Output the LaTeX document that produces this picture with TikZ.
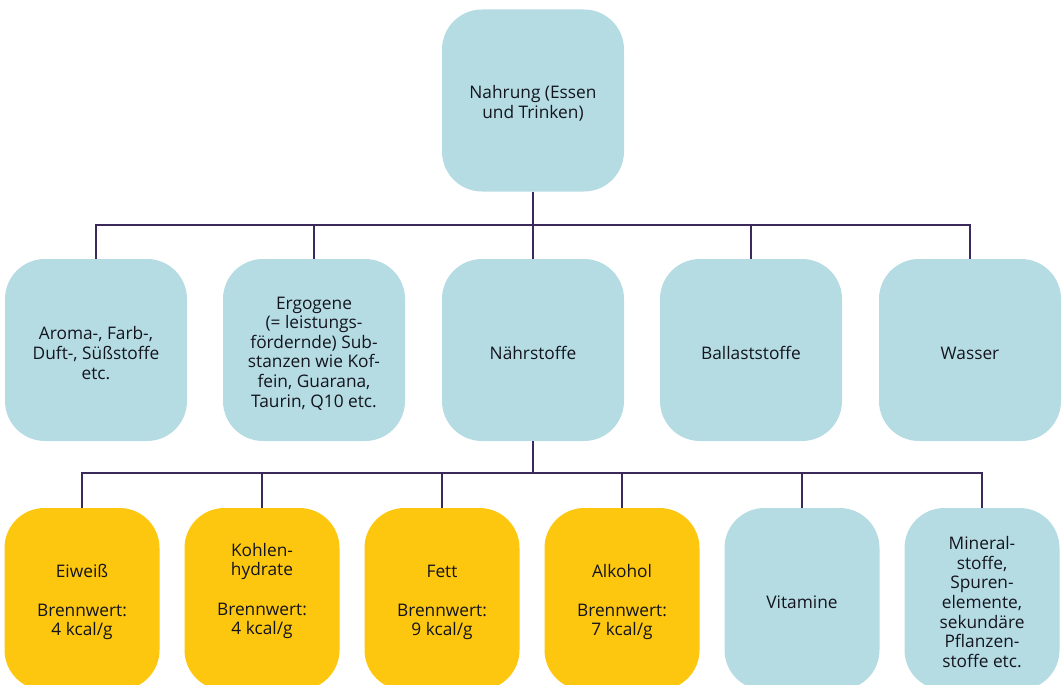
\documentclass[tikz,border=0pt]{standalone}
\usepackage{fontspec}
\setmainfont{Open Sans}
\definecolor{boxblue}{RGB}{181,220,227}
\definecolor{boxyellow}{RGB}{252,199,14}
\definecolor{linecol}{RGB}{58,42,92}
\definecolor{txtcol}{RGB}{20,20,30}
\newcommand{\topstrut}{\rule{0pt}{19.2pt}}
\begin{document}
\begin{tikzpicture}[x=1pt,y=-1pt,
  box/.style={rounded corners=40pt, minimum height=182pt, align=center,
    inner sep=0pt, text=txtcol, font=\fontsize{17.3}{19.6}\selectfont},
  bigbox/.style={box, fill=boxblue, minimum width=182pt},
  bluebox/.style={box, fill=boxblue, minimum width=155pt},
  yellowbox/.style={box, fill=boxyellow, minimum width=155pt},
  conn/.style={draw=linecol, line width=1.4pt}]
\useasboundingbox (0,0) rectangle (1063,685);
\clip (0,0) rectangle (1063,685);
% top
\node[bigbox] (top) at (533,100.5) {\topstrut Nahrung (Essen\\und Trinken)};
% row 2
\node[bigbox] (aroma) at (96,350) {\topstrut Aroma-, Farb-,\\Duft-, Süßstoffe\\etc.};
\node[bigbox] (ergo) at (314,350) {\topstrut Ergogene\\(= leistungs-\\fördernde) Sub-\\stanzen wie Kof-\\fein, Guarana,\\Taurin, Q10 etc.};
\node[bigbox] (naehr) at (533,350) {\topstrut Nährstoffe};
\node[bigbox] (ballast) at (751,350) {\topstrut Ballaststoffe};
\node[bigbox] (wasser) at (970,350) {\topstrut Wasser};
% row 3
\node[yellowbox] (eiweiss) at (82,599) {\topstrut Eiweiß\\[19.6pt]Brennwert:\\4 kcal/g};
\node[yellowbox] (kohlen) at (262,599) {\topstrut Kohlen-\\hydrate\\[19.6pt]Brennwert:\\4 kcal/g\\[6.6pt]};
\node[yellowbox] (fett) at (442,599) {\topstrut Fett\\[19.6pt]Brennwert:\\9 kcal/g};
\node[yellowbox] (alkohol) at (622,599) {\topstrut Alkohol\\[19.6pt]Brennwert:\\7 kcal/g};
\node[bluebox] (vitamine) at (802,599) {\topstrut Vitamine};
\node[bluebox] (mineral) at (982,599) {\topstrut Mineral-\\stoffe,\\Spuren-\\elemente,\\sekundäre\\Pflanzen-\\stoffe etc.};
% connectors level 1
\coordinate (h1) at (0,225);
\draw[conn] (top.south) -- (naehr.north);
\draw[conn] (aroma.north) -- (aroma.north |- h1) -- (wasser.north |- h1) -- (wasser.north);
\draw[conn] (ergo.north) -- (ergo.north |- h1);
\draw[conn] (ballast.north) -- (ballast.north |- h1);
% connectors level 2
\coordinate (h2) at (0,473);
\draw[conn] (naehr.south) -- (naehr.south |- h2);
\draw[conn] (eiweiss.north) -- (eiweiss.north |- h2) -- (mineral.north |- h2) -- (mineral.north);
\draw[conn] (kohlen.north) -- (kohlen.north |- h2);
\draw[conn] (fett.north) -- (fett.north |- h2);
\draw[conn] (alkohol.north) -- (alkohol.north |- h2);
\draw[conn] (vitamine.north) -- (vitamine.north |- h2);
\end{tikzpicture}
\end{document}
